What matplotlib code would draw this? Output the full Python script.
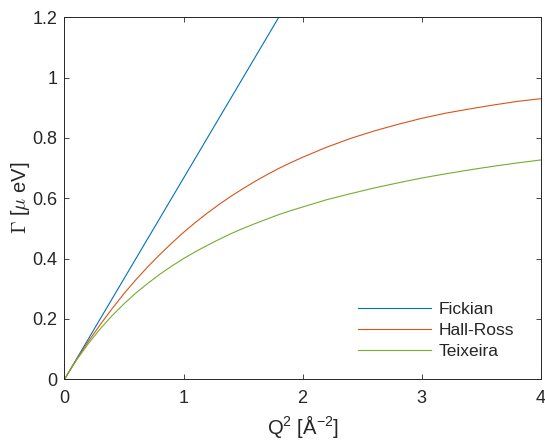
import matplotlib
matplotlib.use("Agg")
import matplotlib.pyplot as plt

# values (Q^2 in 1/A^2, Gamma in micro-eV)
q2 = [0.0, 0.1, 0.2, 0.3, 0.4, 0.5, 0.6, 0.7, 0.8, 0.9, 1.0, 1.1, 1.2, 1.3,
      1.4, 1.5, 1.6, 1.7, 1.8, 1.9, 2.0, 2.2, 2.4, 2.6, 2.8, 3.0, 3.2, 3.4,
      3.6, 3.8, 4.0]
fickian_q2 = [0.0, 1.8, 4.0]
fickian = [0.0, 1.2, 2.667]
hall_ross = [0.0, 0.065, 0.125, 0.181, 0.234, 0.284, 0.330, 0.373, 0.413,
             0.451, 0.487, 0.520, 0.551, 0.580, 0.607, 0.632, 0.656, 0.678,
             0.699, 0.718, 0.736, 0.769, 0.798, 0.823, 0.845, 0.865, 0.882,
             0.896, 0.909, 0.921, 0.930]
teixeira = [0.0, 0.063, 0.118, 0.167, 0.211, 0.250, 0.286, 0.318, 0.348,
            0.375, 0.400, 0.423, 0.444, 0.464, 0.483, 0.500, 0.516, 0.531,
            0.546, 0.559, 0.571, 0.595, 0.615, 0.634, 0.651, 0.667, 0.681,
            0.694, 0.706, 0.717, 0.727]
xticks = [0, 1, 2, 3, 4]
yticks = [0, 0.2, 0.4, 0.6, 0.8, 1.0, 1.2]
ytick_labels = ["0", "0.2", "0.4", "0.6", "0.8", "1", "1.2"]

DARK = "#262626"
plt.rcParams.update({
    "font.family": ["Liberation Sans", "DejaVu Sans"],
    "mathtext.fontset": "custom",
    "mathtext.rm": "Liberation Sans",
    "mathtext.it": "Liberation Sans:italic",
})

fig = plt.figure(figsize=(5.45, 4.42), dpi=100)
ax = fig.add_axes([0.1183, 0.1419, 0.8738, 0.819])

ax.plot(fickian_q2, fickian, color="#0072BD", lw=0.8, label="Fickian")
ax.plot(q2, hall_ross, color="#D95319", lw=0.8, label="Hall-Ross")
ax.plot(q2, teixeira, color="#77AC30", lw=0.8, label="Teixeira")

ax.set_xlim(0, 4)
ax.set_ylim(0, 1.2)
ax.set_xticks(xticks)
ax.set_yticks(yticks)
ax.set_yticklabels(ytick_labels)
ax.tick_params(direction="in", length=3.5, width=0.6, colors=DARK,
               labelsize=13, top=True, right=True)
ax.tick_params(axis="x", pad=8)
ax.tick_params(axis="y", pad=5)
for s in ax.spines.values():
    s.set_color(DARK)
    s.set_linewidth(0.7)

ax.set_xlabel(r"Q$^{2}$ [Å$^{-2}$]", fontsize=14.5, color=DARK, labelpad=4)
ax.set_ylabel(r"$\Gamma$ [$\mu$ eV]", fontsize=14.5, color=DARK, labelpad=0,
              math_fontfamily="cm")

leg = ax.legend(loc="center left", frameon=False, fontsize=12.5,
                handlelength=4.2, handletextpad=0.45, labelspacing=0.35,
                bbox_to_anchor=(0.583, 0.135))
for t in leg.get_texts():
    t.set_color(DARK)

fig.savefig("out.png", dpi=100)
